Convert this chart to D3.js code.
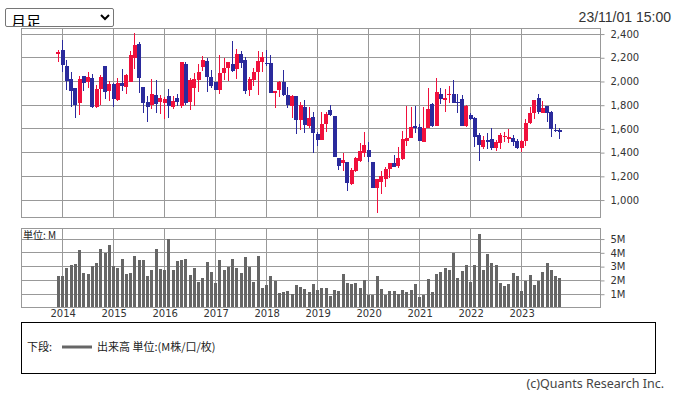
<!doctype html>
<html>
<head>
<meta charset="utf-8">
<style>
  body { margin: 0; background: #fff; }
  #wrap { position: relative; width: 673px; height: 396px; }
  svg { position: absolute; left: 0; top: 0; }
  select {
    position: absolute; left: 5px; top: 8px; width: 109px; height: 19px;
    font-family: "Noto Sans CJK JP", sans-serif; font-size: 15px; line-height: 15px;
    padding: 0 1px; border: 1px solid #767676; border-radius: 2px; background: #fff; color: #000;
  }
  .axis text { font-family: "DejaVu Sans", sans-serif; font-size: 10px; fill: #333; }
  .axis path { display: none; }
  .axis line { stroke: #999; }
  .grid line { stroke: #999; shape-rendering: crispEdges; }
</style>
<script src="https://cdn.jsdelivr.net/npm/d3@7"></script>
</head>
<body>
<div id="wrap"></div>
<script>
// monthly bars, Dec 2013 .. Oct 2023
var months = d3.range(119).map(function(i) {
  var y = 2013 + Math.floor((11 + i) / 12), m = (11 + i) % 12 + 1;
  return y + '-' + (m < 10 ? '0' + m : m);
});

var open = [2234,2265,2127,2020,1944,1818,2046,1995,2032,1787,1936,2130,1922,1975,1843,1987,1956,1998,2195,2316,
  1953,1824,1801,1888,1826,1821,1877,1787,1860,1793,2147,1829,1947,2012,2124,2175,2034,1995,1925,2068,
  2116,2147,2102,2231,2181,1930,2012,2082,2167,2155,2153,1905,1928,1998,1886,1796,1877,1675,1787,1627,
  1700,1557,1506,1641,1759,1708,1354,1315,1323,1138,1247,1329,1399,1419,1323,1098,1155,1180,1261,1312,
  1290,1349,1500,1526,1627,1613,1492,1610,1810,1627,1894,1846,1888,1894,1829,1852,1624,1717,1689,1548,
  1450,1506,1514,1441,1483,1531,1514,1520,1498,1441,1498,1652,1731,1863,1736,1793,1745,1593,1593];
var high = [2265,2349,2183,2079,1944,2043,2046,2079,2060,1970,2054,2130,2003,1984,2029,2108,2063,2259,2406,2335,
  1953,1880,2020,2012,1885,1869,1936,1880,1897,2164,2161,2026,2068,2144,2214,2195,2096,1995,2223,2195,
  2161,2341,2273,2256,2203,2040,2110,2256,2251,2265,2223,1919,2003,2096,1956,1885,1877,1824,1843,1787,
  1739,1576,1739,1739,1801,1708,1354,1399,1323,1267,1363,1478,1573,1492,1323,1177,1247,1281,1312,1380,
  1450,1582,1793,1787,1793,1641,1787,1947,1821,2026,1947,1936,1961,2012,1891,1885,1801,1731,1697,1568,
  1540,1568,1604,1506,1568,1576,1599,1548,1512,1506,1680,1787,1843,1894,1835,1793,1753,1638,1604];
var low = [2166,2082,1930,1787,1694,1717,1922,1947,1779,1779,1801,1852,1835,1787,1838,1916,1897,1998,2102,1900,
  1731,1655,1765,1734,1725,1686,1689,1767,1793,1779,1801,1759,1796,1914,2091,1914,1942,1925,1897,2012,
  2006,2082,2018,2116,1894,1877,1961,1886,2082,2130,1900,1779,1871,1877,1779,1694,1557,1590,1562,1610,
  1399,1458,1506,1576,1712,1365,1253,1247,1079,1126,1239,1318,1360,1318,1098,893,1048,1110,1188,1278,
  1267,1337,1458,1520,1562,1500,1492,1610,1618,1627,1807,1739,1821,1821,1736,1627,1618,1675,1444,1332,
  1430,1430,1419,1413,1430,1492,1478,1458,1430,1402,1458,1641,1683,1722,1736,1661,1534,1576,1514];
var close = [2251,2141,2006,1922,1801,2020,1989,2037,1787,1936,2037,1914,1975,1852,1987,1964,2054,2223,2307,2032,
  1821,1787,1891,1812,1860,1852,1796,1835,1826,2161,1821,2012,2020,2082,2181,2034,1961,1930,2068,2110,
  2161,2091,2228,2158,1922,2020,2082,2172,2209,2150,1905,1919,1998,1886,1801,1877,1675,1801,1632,1694,
  1568,1506,1641,1722,1717,1365,1290,1337,1146,1253,1357,1413,1464,1365,1104,1177,1202,1264,1312,1281,
  1354,1514,1526,1618,1610,1500,1604,1767,1627,1914,1852,1863,1894,1821,1821,1627,1793,1680,1534,1464,
  1506,1492,1441,1492,1548,1543,1531,1486,1441,1498,1652,1731,1843,1739,1776,1736,1596,1585,1576];
// volume, millions
var volume = [2.33,2.33,2.91,3.13,3.2,4.22,2.55,2.47,3.05,3.27,4.29,4.0,4.58,3.05,2.91,3.56,2.47,2.55,3.78,3.49,
  3.49,2.33,2.76,4.29,2.84,2.76,5.02,2.76,3.42,3.49,3.56,2.4,2.91,1.89,2.18,3.35,2.62,1.82,3.49,2.76,
  2.98,3.56,2.91,2.55,3.71,2.98,1.89,3.78,1.45,1.67,2.33,1.96,1.09,1.16,1.24,1.02,1.67,1.53,1.38,1.16,
  1.75,1.31,1.45,1.45,0.87,1.31,1.24,2.47,1.82,1.75,1.82,1.45,2.04,0.95,0.95,2.33,1.38,0.95,1.24,1.24,
  1.02,1.31,1.16,1.31,1.75,0.8,0.95,2.11,1.16,2.47,2.62,2.91,2.76,4.0,2.18,2.69,3.13,1.89,3.13,5.38,
  2.76,3.93,3.27,3.13,1.82,1.6,1.75,2.55,2.33,1.24,1.96,2.4,1.67,1.96,2.62,3.27,2.76,2.33,2.18];

var priceTicks = [1000, 1200, 1400, 1600, 1800, 2000, 2200, 2400];
var volTicks = [1, 2, 3, 4, 5];
var yearIdx = months.map(function(m, i) { return m.slice(5) === '01' ? i : -1; }).filter(function(i) { return i >= 0; });

var plotL = 21, plotR = 600;
var pTop = 28, pBot = 217;
var vTop = 228, vBot = 308;

var x = d3.scaleLinear().domain([-8.8, 127.45]).range([plotL, plotR]);
var yP = d3.scaleLinear().domain([857, 2451]).range([pBot, pTop]);
var yV = d3.scaleLinear().domain([0, 5.8]).range([vBot, vTop]);

var wrap = d3.select('#wrap');
var svg = wrap.append('svg').attr('width', 673).attr('height', 396);

// selector + timestamp
var sel = wrap.append('select');
sel.append('option').text('月足');

svg.append('text')
  .attr('x', 671).attr('y', 22)
  .attr('text-anchor', 'end')
  .style('font-family', '"Liberation Sans", Arial, sans-serif')
  .style('font-size', '14px').style('fill', '#333')
  .text('23/11/01 15:00');

// ---- price panel
var gP = svg.append('g').attr('class', 'grid');
gP.selectAll('.hl').data(priceTicks).enter().append('line')
  .attr('x1', plotL).attr('x2', plotR)
  .attr('y1', d => yP(d)).attr('y2', d => yP(d));
gP.selectAll('.vl').data(yearIdx).enter().append('line')
  .attr('x1', d => x(d)).attr('x2', d => x(d))
  .attr('y1', pTop).attr('y2', pBot);
svg.append('rect')
  .attr('x', plotL + 0.5).attr('y', pTop + 0.5)
  .attr('width', plotR - plotL).attr('height', pBot - pTop)
  .attr('fill', 'none').attr('stroke', '#999');

svg.append('g').attr('class', 'axis')
  .attr('transform', `translate(${plotR + 0.5},0)`)
  .call(d3.axisRight(yP).tickValues(priceTicks).tickSize(4).tickPadding(6).tickFormat(d3.format(',')));

var candles = svg.append('g').selectAll('g').data(months).enter().append('g')
  .style('shape-rendering', 'crispEdges');
var col = function(i) { return close[i] >= open[i] ? '#f0103c' : '#2a2a9c'; };
candles.append('line')
  .attr('x1', (d, i) => x(i)).attr('x2', (d, i) => x(i))
  .attr('y1', (d, i) => yP(high[i])).attr('y2', (d, i) => yP(low[i]))
  .attr('stroke', (d, i) => col(i)).attr('stroke-width', 1);
candles.append('rect')
  .attr('x', (d, i) => x(i) - 2).attr('width', 4)
  .attr('y', (d, i) => yP(Math.max(open[i], close[i])))
  .attr('height', (d, i) => Math.max(1, Math.abs(yP(open[i]) - yP(close[i]))))
  .attr('fill', (d, i) => col(i));

// ---- volume panel
var gV = svg.append('g').attr('class', 'grid');
gV.selectAll('.hl').data(volTicks).enter().append('line')
  .attr('x1', plotL).attr('x2', plotR)
  .attr('y1', d => yV(d)).attr('y2', d => yV(d));
gV.selectAll('.vl').data(yearIdx).enter().append('line')
  .attr('x1', d => x(d)).attr('x2', d => x(d))
  .attr('y1', vTop).attr('y2', vBot);

svg.append('g').selectAll('rect').data(volume).enter().append('rect')
  .attr('x', (d, i) => x(i) - 1.5).attr('width', 3)
  .attr('y', d => yV(d)).attr('height', d => vBot - yV(d))
  .attr('fill', '#666').style('shape-rendering', 'crispEdges');

svg.append('rect')
  .attr('x', plotL + 0.5).attr('y', vTop + 0.5)
  .attr('width', plotR - plotL).attr('height', vBot - vTop - 1)
  .attr('fill', 'none').attr('stroke', '#999');

svg.append('g').attr('class', 'axis')
  .attr('transform', `translate(${plotR + 0.5},0)`)
  .call(d3.axisRight(yV).tickValues(volTicks).tickSize(4).tickPadding(6).tickFormat(d => d + 'M'));

svg.append('text')
  .attr('x', 23).attr('y', 239)
  .style('font-family', '"Noto Sans CJK JP", sans-serif').style('font-size', '10px').style('fill', '#222')
  .text('単位: M');

svg.append('g').attr('class', 'axis')
  .attr('transform', `translate(0,${vBot})`)
  .call(d3.axisBottom(x).tickValues(yearIdx).tickSize(0).tickPadding(2).tickFormat(i => months[i].slice(0, 4)));

// ---- legend box
svg.append('rect')
  .attr('x', 21.5).attr('y', 322.5).attr('width', 634).attr('height', 51)
  .attr('fill', 'none').attr('stroke', '#000');
var leg = svg.append('g')
  .style('font-family', '"Noto Sans CJK JP", sans-serif').style('font-size', '11px').style('fill', '#222');
leg.append('text').attr('x', 27).attr('y', 351).text('下段:');
leg.append('line')
  .attr('x1', 62).attr('x2', 92).attr('y1', 347).attr('y2', 347)
  .attr('stroke', '#666').attr('stroke-width', 3);
leg.append('text').attr('x', 97).attr('y', 351).text('出来高 単位:(M株/口/枚)');

svg.append('text')
  .attr('x', 664).attr('y', 388).attr('text-anchor', 'end')
  .style('font-family', '"Noto Sans", sans-serif').style('font-size', '12.5px').style('fill', '#444')
  .text('(c)Quants Research Inc.');
</script>
</body>
</html>
